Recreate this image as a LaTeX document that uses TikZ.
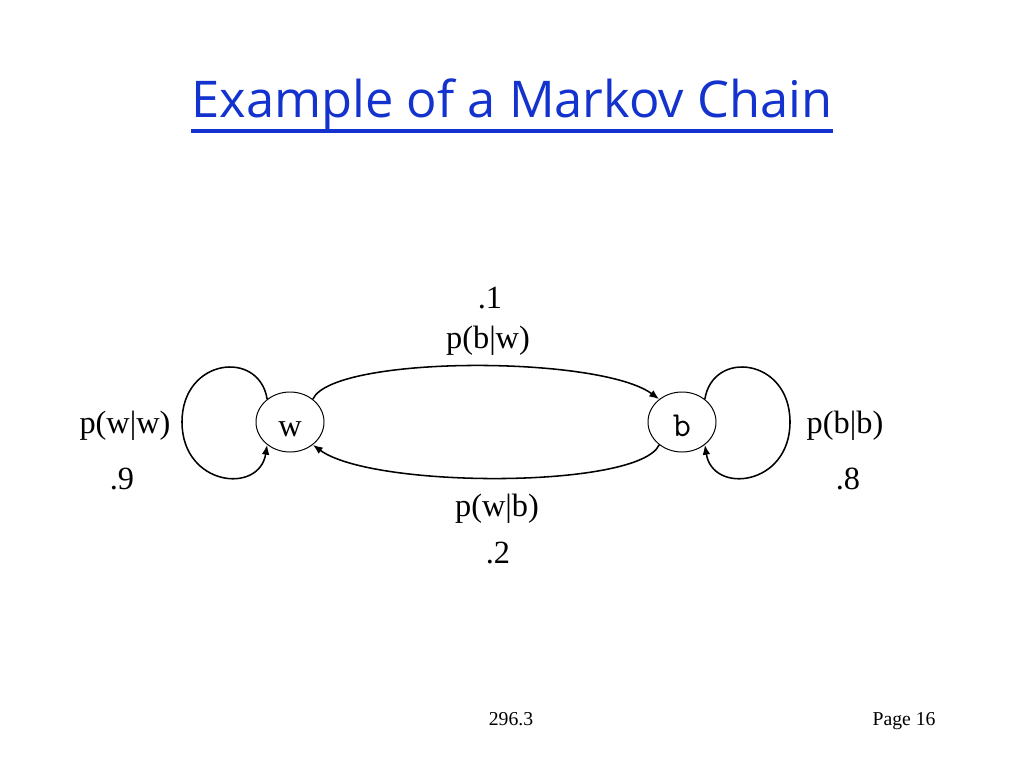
\documentclass[tikz,border=0pt]{standalone}
\usepackage{fontspec}
\setmainfont{Liberation Serif}
\newfontfamily\titlefont{Open Sans}
\newfontfamily\courfont{Latin Modern Mono}
\usetikzlibrary{arrows.meta,positioning,calc,shapes.geometric}
\definecolor{titleblue}{RGB}{20,50,205}
\tikzset{
  every picture/.append style={line width=0.6pt},
}

\begin{document}
\begin{tikzpicture}[
  x=0.025cm, y=-0.025cm,
  >={Latex[length=7pt,width=5.5pt]},
  state/.style={draw, ellipse, minimum width=1.7cm, minimum height=1.5cm, inner sep=0pt, line width=0.7pt, text height=21pt, text depth=1pt, font=\fontsize{23}{26}\selectfont},
  trans/.style={->, line width=1.1pt},
  prob/.style={anchor=base, inner sep=0pt, font=\fontsize{23}{26}\selectfont},
  foot/.style={anchor=base, inner sep=0pt, font=\fontsize{14}{16}\selectfont}
]
\useasboundingbox (0,0) rectangle (1024,768);

% Title
\node[anchor=base, inner sep=0pt, text=titleblue, font=\titlefont\fontsize{36}{40}\selectfont] (title) at (512,118) {Example of a Markov Chain};
\draw[titleblue, line width=2.2pt] ([yshift=-0.325cm]title.base west) -- ([yshift=-0.325cm]title.base east);

% States
\node[state] (w) at (290,422) {w};
\node[state, font=\courfont\fontsize{25}{28}\selectfont] (b) at (682,422) {b};

% Self loops
\coordinate (wl) at (182,422);
\coordinate (br) at (790,422);
\draw[trans] (w.135) .. controls +(-8,-50) and +(0,-64) .. (wl) .. controls +(0,64) and +(-8,50) .. (w.225);
\draw[trans] (b.45) .. controls +(8,-50) and +(0,-64) .. (br) .. controls +(0,64) and +(8,50) .. (b.-45);

% Transitions between states
\draw[trans] (w.45) .. controls +(20,-44) and +(-60,-44) .. (b.135);
\draw[trans] (b.225) .. controls +(-20,44) and +(60,44) .. (w.-45);

% Probabilities
\node[prob] (pbw) at (490,308) {.1};
\node[prob] (lbw) at (488,348) {p(b|w)};
\node[prob] (lww) at (125,433) {p(w|w)};
\node[prob] (pww) at (122,489) {.9};
\node[prob] (lbb) at (845,433) {p(b|b)};
\node[prob] (pbb) at (848,489) {.8};
\node[prob] (lwb) at (497,516) {p(w|b)};
\node[prob] (pwb) at (498,563) {.2};

% Footer
\node[foot] (num) at (511,725) {296.3};
\node[foot] (page) at (904,725) {Page 16};
\end{tikzpicture}
\end{document}
